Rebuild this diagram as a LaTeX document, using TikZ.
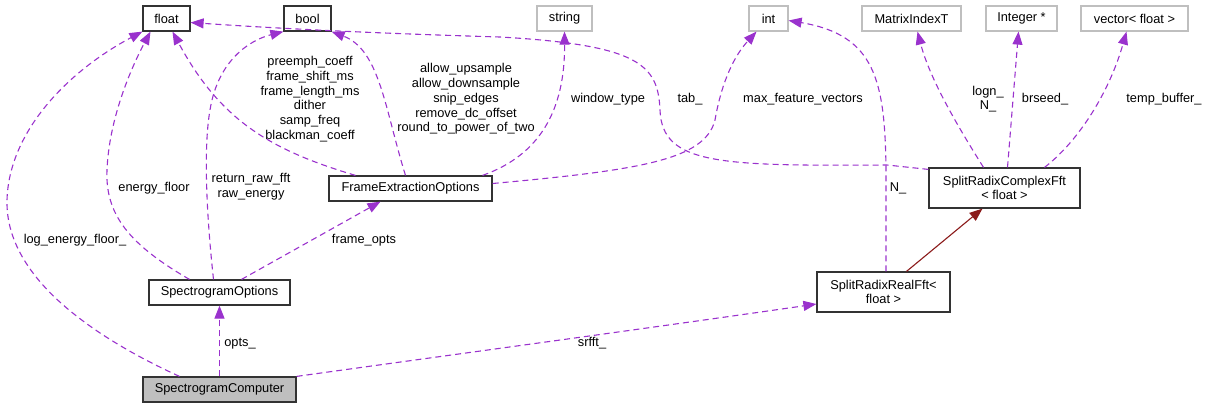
\documentclass[tikz,border=0pt]{standalone}
\usepackage{fontspec}
\setmainfont{Liberation Sans}
\usetikzlibrary{arrows.meta}
\definecolor{dep}{HTML}{9A32CD}
\definecolor{inh}{HTML}{8B1A1A}
\definecolor{gbord}{HTML}{BFBFBF}
\begin{document}
\begin{tikzpicture}[x=1pt,y=-1pt,
  every node/.style={font=\fontsize{12.8}{14.7}\selectfont, inner sep=0pt},
  cls/.style={draw=black!80, line width=1.2pt, fill=white, minimum height=25pt, align=center},
  ext/.style={draw=gbord, line width=1.2pt, fill=white, minimum height=25pt, align=center},
  cls2/.style={cls, minimum height=40pt},
  depl/.style={draw=dep, line width=1.1pt, dash pattern=on 6pt off 4pt, -{Triangle[length=13pt,width=10pt,fill=dep]}},
  inhl/.style={draw=inh, line width=1.1pt, -{Triangle[length=13pt,width=10pt,fill=inh]}},
  lbl/.style={align=center, fill=none}
]
\useasboundingbox (0,0) rectangle (1209,408);
% nodes
\node[cls, minimum width=47pt] (float) at (166.5,18.5) {float};
\node[cls, minimum width=47pt] (bool) at (307.5,18.5) {bool};
\node[ext, minimum width=55pt] (string) at (564.5,18.5) {string};
\node[ext, minimum width=39pt] (int) at (768.5,18.5) {int};
\node[ext, minimum width=99pt] (mit) at (911.5,18.5) {MatrixIndexT};
\node[ext, minimum width=71pt] (integer) at (1021.5,18.5) {Integer *};
\node[ext, minimum width=107pt] (vec) at (1134.5,18.5) {vector\textless{} float \textgreater};
\node[cls2, minimum width=151pt] (src) at (1004.5,188) {SplitRadixComplexFft\\\textless{} float \textgreater};
\node[cls2, minimum width=133pt] (srrf) at (883.5,292) {SplitRadixRealFft\textless\\float \textgreater};
\node[cls, minimum width=163pt] (feo) at (410.5,188.5) {FrameExtractionOptions};
\node[cls, minimum width=141pt] (so) at (219.5,292.5) {SpectrogramOptions};
\node[cls, minimum width=153pt, fill=gbord] (sc) at (219.5,389.5) {SpectrogramComputer};

% edges
\draw[depl] ([xshift=-40pt]sc.north) .. controls (100,340) and (5,280) .. (7,200) .. controls (9,130) and (70,70) .. (float.south west);
\node[lbl] (l1) at (75,240) {log\_energy\_floor\_};

\draw[depl] ([xshift=-30pt]so.north) .. controls (130,245) and (105,215) .. (107,170) .. controls (109,120) and (130,70) .. ([xshift=-16pt]float.south);
\node[lbl] (l2) at (154,188) {energy\_floor};

\draw[depl] ([xshift=-6pt]so.north) .. controls (207,220) and (203,150) .. (210,110) .. controls (218,60) and (250,40) .. (bool.south west);
\node[lbl] (l3) at (251,187) {return\_raw\_fft\\raw\_energy};

\draw[depl] ([xshift=22pt]so.north) -- ([xshift=-30pt]feo.south);
\node[lbl] (l4) at (364,240) {frame\_opts};

\draw[depl] (sc.north) -- (so.south);
\node[lbl] (l5) at (240,344) {opts\_};

\draw[depl] (sc.north east) .. controls (450,355) and (650,328) .. ([yshift=-12pt]srrf.west);
\node[lbl] (l6) at (592,343) {srfft\_};

\draw[depl] ([xshift=-55pt]feo.north) .. controls (270,150) and (220,120) .. ([xshift=6pt]float.south);
\node[lbl] (l7) at (310,99) {preemph\_coeff\\frame\_shift\_ms\\frame\_length\_ms\\dither\\samp\_freq\\blackman\_coeff};

\draw[depl] ([xshift=-5pt]feo.north) .. controls (385,110) and (380,50) .. (bool.south east);
\node[lbl] (l8) at (466,99) {allow\_upsample\\allow\_downsample\\snip\_edges\\remove\_dc\_offset\\round\_to\_power\_of\_two};

\draw[depl] ([xshift=72pt]feo.north) .. controls (540,155) and (565,110) .. (string.south);
\node[lbl] (l9) at (608,99) {window\_type};

\draw[depl] ([yshift=5pt]feo.east) .. controls (640,170) and (705,160) .. (715,120) .. controls (722,80) and (735,55) .. ([xshift=-12pt]int.south);
\node[lbl] (l10) at (803,99) {max\_feature\_vectors};

\draw[depl] ([yshift=-2pt]src.north west) -- (887,165) .. controls (720,166) and (662,165) .. (660,110) .. controls (658,65) and (640,45) .. (500,37) .. controls (400,34) and (300,30) .. ([yshift=-4pt]float.east);
\node[lbl] (l11) at (690,99) {tab\_};

\draw[depl] ([xshift=2.5pt]srrf.north) -- (886,170) .. controls (885,80) and (875,35) .. ([yshift=-2pt]int.east);
\node[lbl] (l12) at (898,188) {N\_};

\draw[depl] ([xshift=-21pt]src.north) .. controls (960,130) and (930,80) .. ([xshift=6pt]mit.south);
\node[lbl] (l13) at (988,99) {logn\_\\N\_};

\draw[depl] ([xshift=3pt]src.north) -- ([xshift=-3pt]integer.south);
\node[lbl] (l14) at (1045,99) {brseed\_};

\draw[depl] ([xshift=40pt]src.north) .. controls (1080,140) and (1110,90) .. ([xshift=-8pt]vec.south);
\node[lbl] (l15) at (1164,99) {temp\_buffer\_};

\draw[inhl] ([xshift=23pt]srrf.north) -- ([xshift=-22pt]src.south);
\end{tikzpicture}
\end{document}
